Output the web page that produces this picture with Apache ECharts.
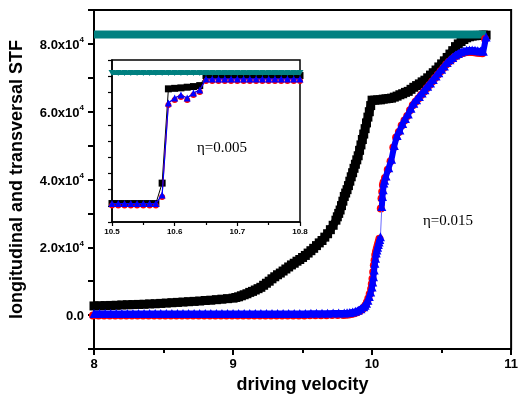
<!DOCTYPE html>
<html>
<head>
<meta charset="utf-8">
<script src="https://cdn.jsdelivr.net/npm/echarts@6/dist/echarts.min.js"></script>
<style>
  html, body { margin: 0; padding: 0; background: #fff; }
  #chart { width: 521px; height: 405px; }
</style>
</head>
<body>
<div id="chart"></div>
<script>
// main plot, eta = 0.015
var blackX = [8.00, 8.04, 8.08, 8.12, 8.16, 8.20, 8.24, 8.28, 8.32, 8.36, 8.40, 8.44, 8.48, 8.52, 8.56, 8.60,
  8.64, 8.68, 8.72, 8.76, 8.80, 8.84, 8.88, 8.92, 8.96, 9.00, 9.02, 9.04, 9.06, 9.08, 9.10, 9.12, 9.14, 9.16,
  9.18, 9.20, 9.22, 9.24, 9.26, 9.28, 9.30, 9.32, 9.34, 9.36, 9.38, 9.40, 9.42, 9.44, 9.46, 9.48, 9.50, 9.52,
  9.54, 9.56, 9.58, 9.60, 9.62, 9.64, 9.66, 9.68, 9.70, 9.72, 9.74, 9.75, 9.76, 9.77, 9.78, 9.79, 9.80, 9.81,
  9.82, 9.83, 9.84, 9.85, 9.86, 9.87, 9.88, 9.89, 9.90, 9.91, 9.92, 9.93, 9.94, 9.95, 9.96, 9.97, 9.98, 9.99,
  10.00, 10.02, 10.04, 10.06, 10.08, 10.10, 10.12, 10.14, 10.16, 10.18, 10.20, 10.22, 10.24, 10.26, 10.28,
  10.30, 10.32, 10.34, 10.36, 10.38, 10.40, 10.42, 10.44, 10.46, 10.48, 10.50, 10.52, 10.54, 10.56, 10.58,
  10.60, 10.62, 10.64, 10.66, 10.68, 10.70, 10.72, 10.74, 10.76, 10.78, 10.80, 10.82];
var blackY = [2700, 2750, 2800, 2850, 2900, 3000, 3050, 3100, 3150, 3200, 3300, 3350, 3450, 3550, 3650, 3750,
  3850, 3950, 4050, 4150, 4300, 4400, 4550, 4700, 4850, 5000, 5200, 5400, 5700, 6000, 6300, 6700, 7000, 7400,
  7800, 8200, 8800, 9400, 10000, 10700, 11300, 11900, 12400, 13000, 13600, 14200, 14800, 15300, 15900, 16400,
  17000, 17600, 18300, 19000, 19700, 20500, 21300, 22000, 23000, 24000, 25200, 26500, 28000, 29000, 30000,
  31000, 32300, 33600, 35000, 36000, 37000, 38200, 39500, 40800, 42000, 43300, 44500, 45800, 47000, 48600,
  50200, 51800, 53400, 55000, 56700, 58400, 60000, 61800, 63400, 63400, 63500, 63500, 63700, 63800, 63900,
  64000, 64300, 64600, 65000, 65300, 65700, 66000, 66600, 67200, 67700, 68200, 68800, 69300, 70000, 70800,
  71500, 72300, 73200, 74100, 75000, 76000, 77000, 78000, 79200, 80000, 80700, 81300, 81800, 82100, 82300,
  82400, 82500, 82500, 82600, 82600];

// blue / red, below the jump at 10.06-10.07
var blueLowX = [8.00, 8.04, 8.08, 8.12, 8.16, 8.20, 8.24, 8.28, 8.32, 8.36, 8.40, 8.44, 8.48, 8.52, 8.56, 8.60,
  8.64, 8.68, 8.72, 8.76, 8.80, 8.84, 8.88, 8.92, 8.96, 9.00, 9.04, 9.08, 9.12, 9.16, 9.20, 9.24, 9.28, 9.32,
  9.36, 9.40, 9.44, 9.48, 9.52, 9.56, 9.60, 9.64, 9.68, 9.72, 9.76, 9.80, 9.82, 9.84, 9.86, 9.88, 9.90, 9.92,
  9.94, 9.95, 9.96, 9.97, 9.98, 9.99, 10.00, 10.005, 10.01, 10.015, 10.02, 10.025, 10.03, 10.035, 10.04,
  10.045, 10.05, 10.055, 10.06];
var blueLowY = [500, 500, 500, 500, 500, 500, 500, 500, 500, 500, 500, 500, 500, 500, 500, 500,
  500, 500, 500, 500, 500, 500, 500, 500, 500, 500, 500, 500, 500, 500, 500, 500, 500, 500,
  500, 500, 500, 500, 500, 550, 550, 550, 550, 600, 600, 650, 700, 800, 950, 1100, 1400, 1900,
  2500, 2900, 3500, 4400, 5500, 6800, 8300, 9800, 11300, 13300, 15300, 16800, 18300,
  19200, 20000, 20800, 21600, 22300, 23100];
// blue / red, above the jump
var blueHighX = [10.07, 10.075, 10.08, 10.085, 10.09, 10.10, 10.12, 10.14, 10.16, 10.18,
  10.20, 10.22, 10.24, 10.26, 10.28, 10.30, 10.32, 10.34, 10.36, 10.38, 10.40, 10.42, 10.44, 10.46, 10.48,
  10.50, 10.52, 10.54, 10.56, 10.58, 10.60, 10.62, 10.64, 10.66, 10.68, 10.70, 10.72, 10.74, 10.76, 10.78,
  10.80, 10.82];
var blueHighY = [32000, 35000, 37000, 39000, 39800, 41000,
  43500, 46000, 50000, 53000, 54600, 56500, 58000, 59300, 61000, 62500, 63500, 64500,
  65500, 66500, 67500, 68500, 69500, 70500, 71500, 72500, 73500, 74500, 75300, 76000,
  76700, 77200, 77600, 77900, 78100, 78200, 78200, 78100, 78000, 77900, 77800, 82000];

var tealX = [8.0, 8.1, 8.2, 8.3, 8.4, 8.5, 8.6, 8.7, 8.8, 8.9, 9.0, 9.1, 9.2, 9.3, 9.4, 9.5, 9.6, 9.7,
  9.8, 9.9, 10.0, 10.1, 10.2, 10.3, 10.4, 10.5, 10.6, 10.7, 10.8, 10.82];
var tealY = [82800, 82800, 82800, 82800, 82800, 82800, 82800, 82800, 82800, 82800, 82800, 82800, 82800,
  82800, 82800, 82800, 82800, 82800, 82800, 82800, 82800, 82800, 82800, 82800, 82800, 82800, 82800,
  82800, 82800, 82800];

// inset, eta = 0.005 (y in arbitrary tick units)
var insetX = [10.50, 10.51, 10.52, 10.53, 10.54, 10.55, 10.56, 10.57, 10.58, 10.59, 10.60, 10.61, 10.62,
  10.63, 10.64, 10.65, 10.66, 10.67, 10.68, 10.69, 10.70, 10.71, 10.72, 10.73, 10.74, 10.75, 10.76, 10.77,
  10.78, 10.79, 10.80];
var insetBlack = [0.14, 0.14, 0.14, 0.14, 0.14, 0.14, 0.14, 0.14, 1.4, 7.22, 7.25, 7.28, 7.32, 7.36, 7.42,
  8.04, 8.04, 8.04, 8.04, 8.04, 8.04, 8.04, 8.04, 8.04, 8.04, 8.04, 8.04, 8.04, 8.04, 8.04, 8.04];
var insetBlue = [0.14, 0.14, 0.14, 0.14, 0.14, 0.14, 0.14, 0.14, 0.67, 6.34, 6.65, 6.84, 6.65, 6.96, 7.15,
  7.83, 7.83, 7.83, 7.83, 7.83, 7.83, 7.83, 7.83, 7.83, 7.83, 7.83, 7.83, 7.83, 7.83, 7.83, 7.83];
var insetTeal = [8.2, 8.2, 8.2, 8.2, 8.2, 8.2, 8.2, 8.2, 8.2, 8.2, 8.2, 8.2, 8.2, 8.2, 8.2,
  8.2, 8.2, 8.2, 8.2, 8.2, 8.2, 8.2, 8.2, 8.2, 8.2, 8.2, 8.2, 8.2, 8.2, 8.2, 8.2];

var xTicks = [8, 9, 10, 11];
var yLabels = [0, 20000, 40000, 60000, 80000];

function pairs(xs, ys) {
  return xs.map(function (x, i) { return [x, ys[i]]; });
}

var font = '"Liberation Sans", Arial, sans-serif';
var serif = '"Liberation Serif", "Times New Roman", serif';
var TEAL = '#008080';

var chart = echarts.init(document.getElementById('chart'));

// thin blue line across the jump
var lastLow = blueLowX.length - 1;
var jumpLine = [[blueLowX[lastLow], blueLowY[lastLow]], [blueHighX[0], blueHighY[0]]];

function mainSeries(name, data, z, extra) {
  var s = { name: name, type: 'line', xAxisIndex: 0, yAxisIndex: 0, z: z, data: data };
  for (var k in extra) s[k] = extra[k];
  return s;
}

var redStyle = {
  symbol: 'circle', symbolSize: 8, symbolOffset: [-1, 2],
  itemStyle: { color: '#f00' }, lineStyle: { color: '#f00', width: 1 }
};
var blueStyle = {
  symbol: 'triangle', symbolSize: 9,
  itemStyle: { color: '#00f' }, lineStyle: { color: '#00f', width: 6 }
};

var option = {
  animation: false,
  backgroundColor: '#fff',
  grid: [{
    left: 94, right: 7, top: 10, bottom: 56,
    show: true, borderColor: '#000', borderWidth: 2
  }, {
    left: 112, top: 60, width: 188, height: 162,
    show: true, borderColor: '#000', borderWidth: 1.5, backgroundColor: '#fff'
  }],
  xAxis: [{
    gridIndex: 0, type: 'value', min: 8, max: 11, interval: 1,
    name: 'driving velocity', nameLocation: 'middle', nameGap: 26,
    nameTextStyle: { fontFamily: font, fontWeight: 'bold', fontSize: 18, color: '#000' },
    axisLine: { onZero: false, lineStyle: { color: '#000', width: 2 } },
    axisTick: { inside: false, length: 6, lineStyle: { color: '#000', width: 2 } },
    minorTick: { show: true, splitNumber: 2, length: 4, lineStyle: { color: '#000', width: 2 } },
    splitLine: { show: false },
    axisLabel: {
      margin: 9, fontFamily: font, fontWeight: 'bold', fontSize: 13, color: '#000',
      formatter: function (v) { return xTicks.indexOf(v) >= 0 ? String(v) : ''; }
    }
  }, {
    gridIndex: 1, type: 'value', min: 10.5, max: 10.8, interval: 0.1,
    axisLine: { onZero: false, lineStyle: { color: '#000', width: 1.5 } },
    axisTick: { inside: false, length: 4, lineStyle: { color: '#000', width: 1.2 } },
    minorTick: { show: true, splitNumber: 2, length: 3, lineStyle: { color: '#000', width: 1.2 } },
    splitLine: { show: false },
    axisLabel: {
      margin: 6, fontFamily: font, fontWeight: 'bold', fontSize: 8, color: '#000',
      formatter: function (v) { return v.toFixed(1); }
    }
  }],
  yAxis: [{
    gridIndex: 0, type: 'value', min: -10000, max: 90000, interval: 10000,
    name: 'longitudinal and transversal STF', nameLocation: 'middle', nameGap: 68,
    nameTextStyle: { fontFamily: font, fontWeight: 'bold', fontSize: 18, color: '#000' },
    axisLine: { onZero: false, lineStyle: { color: '#000', width: 2 } },
    axisTick: { inside: false, length: 6, lineStyle: { color: '#000', width: 2 } },
    splitLine: { show: false },
    axisLabel: {
      margin: 10, color: '#000',
      formatter: function (v) {
        if (yLabels.indexOf(v) < 0) return '';
        if (v === 0) return '{m|0.0}';
        return '{m|' + (v / 10000).toFixed(1) + 'x10}{s|4}';
      },
      rich: {
        m: { fontFamily: font, fontWeight: 'bold', fontSize: 13, color: '#000', verticalAlign: 'bottom', lineHeight: 16 },
        s: { fontFamily: font, fontWeight: 'bold', fontSize: 8, color: '#000', verticalAlign: 'top', lineHeight: 8 }
      }
    }
  }, {
    gridIndex: 1, type: 'value', min: -1, max: 9, interval: 1,
    axisLine: { onZero: false, lineStyle: { color: '#000', width: 1.5 } },
    axisTick: { inside: false, length: 4, lineStyle: { color: '#000', width: 1.2 } },
    splitLine: { show: false },
    axisLabel: { show: false }
  }],
  graphic: [{
    type: 'text', left: 197, top: 141,
    style: { text: 'η=0.005', fontFamily: serif, fontSize: 15, fill: '#000' }
  }, {
    type: 'text', left: 423, top: 214,
    style: { text: 'η=0.015', fontFamily: serif, fontSize: 15, fill: '#000' }
  }],
  series: [
    mainSeries('black', pairs(blackX, blackY), 2, {
      symbol: 'rect', symbolSize: 9,
      itemStyle: { color: '#000' }, lineStyle: { color: '#000', width: 8 }
    }),
    mainSeries('teal', pairs(tealX, tealY), 3, {
      symbol: 'none', lineStyle: { color: TEAL, width: 8, cap: 'butt' }
    }),
    mainSeries('red low', pairs(blueLowX, blueLowY), 4, redStyle),
    mainSeries('red high', pairs(blueHighX, blueHighY), 4, redStyle),
    mainSeries('blue jump', jumpLine, 5, {
      symbol: 'none', lineStyle: { color: '#6a6aff', width: 1 }
    }),
    mainSeries('blue low', pairs(blueLowX, blueLowY), 6, blueStyle),
    mainSeries('blue high', pairs(blueHighX, blueHighY), 6, blueStyle),
  {
    name: 'inset black', type: 'line', xAxisIndex: 1, yAxisIndex: 1, z: 6,
    data: pairs(insetX, insetBlack),
    symbol: 'rect', symbolSize: 7,
    itemStyle: { color: '#000' }, lineStyle: { color: '#000', width: 1 }
  }, {
    name: 'inset red', type: 'line', xAxisIndex: 1, yAxisIndex: 1, z: 7,
    data: pairs(insetX, insetBlue),
    symbol: 'circle', symbolSize: 6, symbolOffset: [0, 2],
    itemStyle: { color: '#f00' }, lineStyle: { color: '#f00', width: 1 }
  }, {
    name: 'inset blue', type: 'line', xAxisIndex: 1, yAxisIndex: 1, z: 8,
    data: pairs(insetX, insetBlue),
    symbol: 'triangle', symbolSize: 7,
    itemStyle: { color: '#00f' }, lineStyle: { color: '#00f', width: 1.2 }
  }, {
    name: 'inset teal', type: 'line', xAxisIndex: 1, yAxisIndex: 1, z: 9,
    data: pairs(insetX, insetTeal),
    symbol: 'triangle', symbolRotate: 180, symbolSize: [7, 6],
    itemStyle: { color: TEAL }, lineStyle: { color: TEAL, width: 4 }
  }]
};

chart.setOption(option);
</script>
</body>
</html>
